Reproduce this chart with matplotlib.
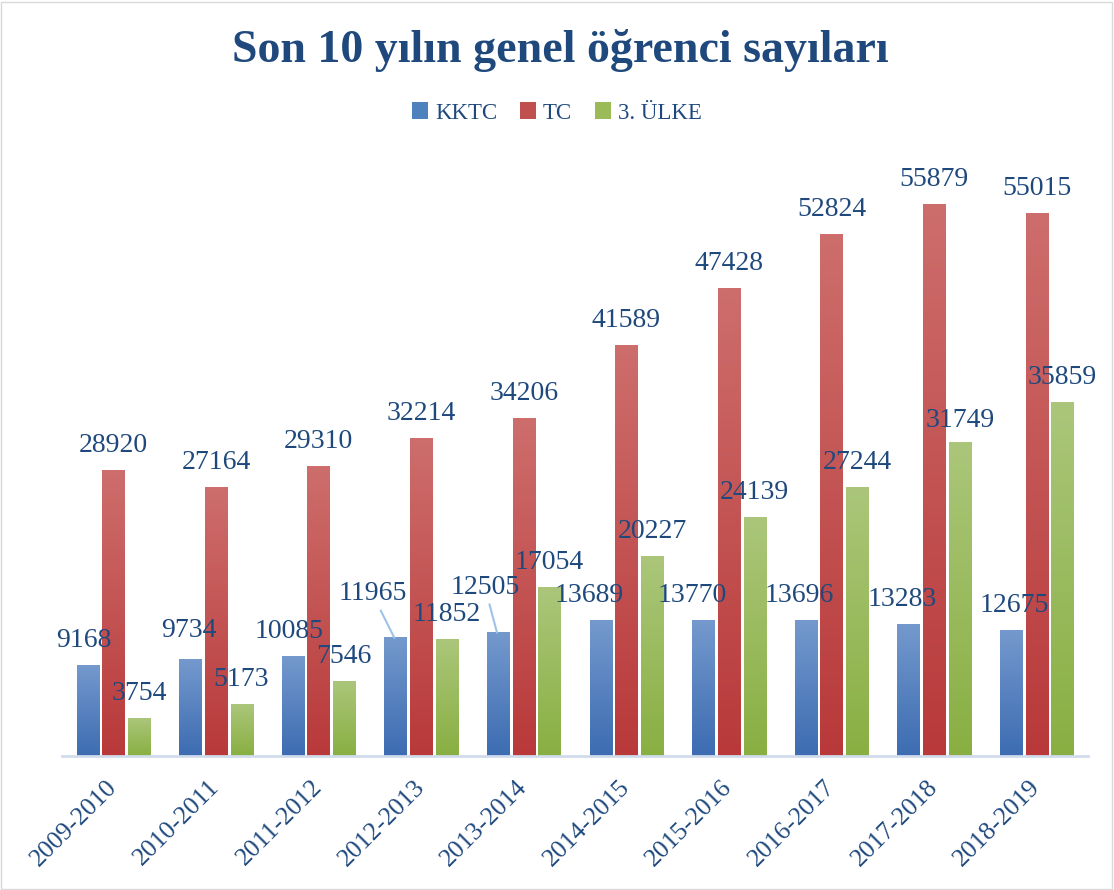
import numpy as np
import matplotlib
matplotlib.use("Agg")
import matplotlib.pyplot as plt
from matplotlib.patches import Patch, Rectangle
from matplotlib.colors import to_rgb

years = ["2009-2010", "2010-2011", "2011-2012", "2012-2013", "2013-2014",
         "2014-2015", "2015-2016", "2016-2017", "2017-2018", "2018-2019"]
kktc = [9168, 9734, 10085, 11965, 12505, 13689, 13770, 13696, 13283, 12675]
tc = [28920, 27164, 29310, 32214, 34206, 41589, 47428, 52824, 55879, 55015]
ulke3 = [3754, 5173, 7546, 11852, 17054, 20227, 24139, 27244, 31749, 35859]
series_names = ["KKTC", "TC", "3. ÜLKE"]

# gradient colours (top, bottom) per series
grad = [("#7499CD", "#3D6CB2"), ("#CD6E6C", "#B9393A"), ("#ABC67A", "#89AF42")]
mid = ["#4F81BD", "#C0504D", "#9BBB59"]
text_col = "#1F497D"
font = "Liberation Serif"

# label offsets in pixels (dx, dy) relative to bar top-centre
kktc_dx = [-4, -1, -4, -22, -12, -11, -11, -7, -6, 3]
kktc_dy = [24, 28, 24, 43, 44, 24, 24, 24, 24, 24]
leaders = [3, 4]

fig = plt.figure(figsize=(11.14, 8.9), dpi=100)
fig.patches.append(Rectangle((0.001, 0.001), 0.997, 0.997, transform=fig.transFigure,
                             fill=False, edgecolor="#D9D9D9", linewidth=1))
ax = fig.add_axes([62 / 1114, 1 - 756 / 890, (1088 - 62) / 1114, (756 - 164) / 890])

x = np.arange(len(years))
w = 0.215
step = 0.25
all_vals = [kktc, tc, ulke3]
for k, vals in enumerate(all_vals):
    bars = ax.bar(x + (k - 1) * step, vals, w, color="none", edgecolor="none")
    top, bot = to_rgb(grad[k][0]), to_rgb(grad[k][1])
    g = np.linspace(0, 1, 128)[:, None, None]
    img = (1 - g) * np.array(top)[None, None, :] + g * np.array(bot)[None, None, :]
    for b in bars:
        x0, h = b.get_x(), b.get_height()
        ax.imshow(img, extent=(x0, x0 + b.get_width(), 0, h), aspect="auto",
                  interpolation="bilinear", zorder=2)
    for i, b in enumerate(bars):
        cx = b.get_x() + b.get_width() / 2
        dx, dy = 0, 25
        if k == 0:
            dx, dy = kktc_dx[i], kktc_dy[i] + 1
        if k == 2 and i == 8:
            dy = 22
        if k == 0 and i in leaders:
            ax.annotate(f"{vals[i]}", (cx - 0.01, vals[i]), xytext=(dx, dy),
                        textcoords="offset pixels", ha="center", va="center",
                        fontsize=20, color=text_col, family=font, zorder=4,
                        arrowprops=dict(arrowstyle="-", color="#9DC3E6", lw=1.5,
                                        shrinkA=1, shrinkB=0))
        else:
            ax.annotate(f"{vals[i]}", (cx, vals[i]), xytext=(dx, dy),
                        textcoords="offset pixels", ha="center", va="center",
                        fontsize=20, color=text_col, family=font, zorder=4)

ax.set_xlim(-0.5, len(years) - 0.5)
ax.set_ylim(0, 60000)
ax.set_yticks([])
ax.set_xticks(x, years, rotation=45, ha="right", va="center", rotation_mode="anchor",
              fontsize=18.5, color=text_col, family=font)
ax.tick_params(axis="x", length=0, pad=20)
for s in ["left", "right", "top"]:
    ax.spines[s].set_visible(False)
ax.spines["bottom"].set_color("#D0DCEC")
ax.spines["bottom"].set_linewidth(2)

fig.text(0.503, 1 - 50 / 890, "Son 10 yılın genel öğrenci sayıları", ha="center", va="center",
         fontsize=33, fontweight="bold", color=text_col, family=font)

handles = [Patch(facecolor=mid[k], edgecolor="none") for k in range(3)]
fig.legend(handles, series_names, loc="center", bbox_to_anchor=(0.5, 1 - 113 / 890), ncol=3,
           frameon=False, handlelength=0.7, handleheight=0.7, handletextpad=0.3,
           columnspacing=1.0, prop={"family": font, "size": 16.5}, labelcolor=text_col)

fig.savefig("out.png", dpi=100)
